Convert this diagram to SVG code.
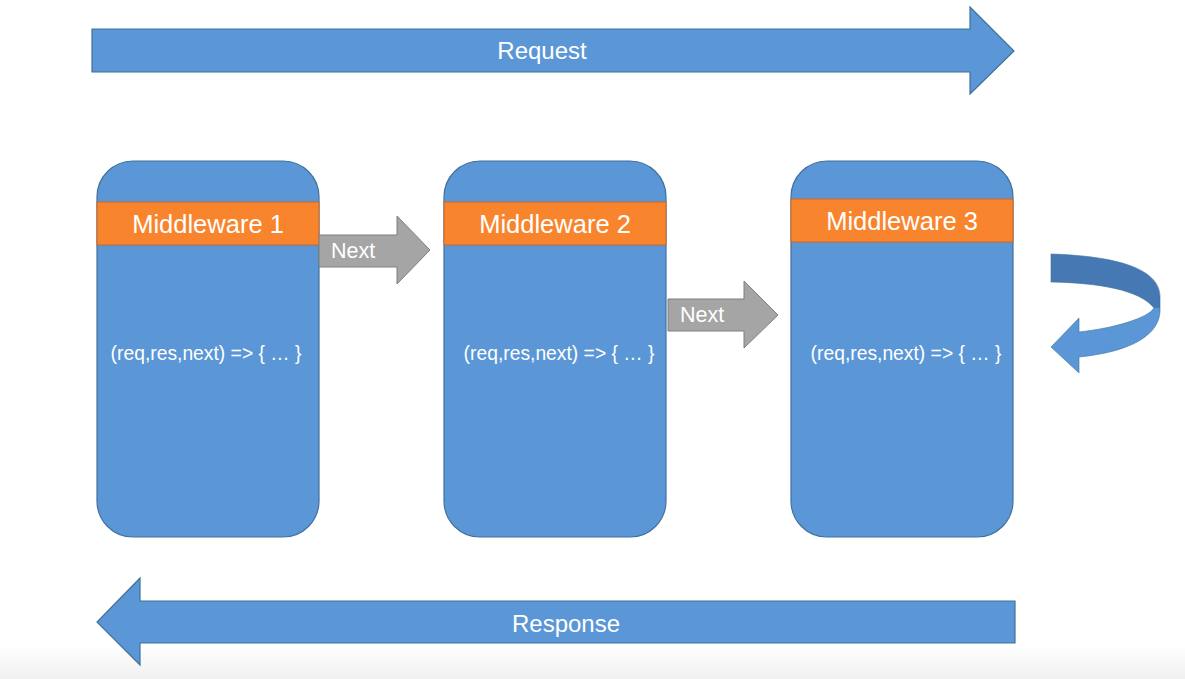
<svg xmlns="http://www.w3.org/2000/svg" width="1185" height="679" viewBox="0 0 1185 679">
<style>
.blue{fill:#5B97D6;stroke:#41719C;stroke-width:1.2}
.band{fill:#F8852E;stroke:#C5682A;stroke-width:1}
.gray{fill:#A5A5A5;stroke:#7F7F7F;stroke-width:1}
text{font-family:"Liberation Sans",Arial,sans-serif;fill:#ffffff}
.big{font-size:24px;text-anchor:middle}
.mw{font-size:25.5px;text-anchor:middle}
.code{font-size:19.3px;text-anchor:middle}
.nx{font-size:21.5px}
</style>
<defs>
<linearGradient id="bg" x1="0" y1="0" x2="0" y2="1">
<stop offset="0" stop-color="#ffffff"/>
<stop offset="1" stop-color="#f0f0f0"/>
</linearGradient>
<linearGradient id="uturn" gradientUnits="userSpaceOnUse" x1="0" y1="254" x2="0" y2="373">
<stop offset="0.455" stop-color="#4679B4"/>
<stop offset="0.455" stop-color="#5B97D6"/>
</linearGradient>
</defs>
<rect width="1185" height="679" fill="#ffffff"/>
<rect x="0" y="645" width="1185" height="34" fill="url(#bg)"/>
<g id="request">
<path class="blue" d="M92,29 L970,29 L970,7 L1014,51 L970,94 L970,72 L92,72 Z"/>
<text class="big" x="542" y="59">Request</text>
</g>
<g id="response">
<path class="blue" d="M1015,601 L140,601 L140,578 L97,622 L140,665 L140,643 L1015,643 Z"/>
<text class="big" x="566" y="632">Response</text>
</g>
<g id="middleware1">
<rect class="blue" x="97" y="161" width="222" height="376" rx="36"/>
<rect class="band" x="97" y="202" width="222" height="43"/>
<text class="mw" x="208" y="233">Middleware 1</text>
<text class="code" x="206" y="360">(req,res,next) =&gt; { … }</text>
</g>
<g id="middleware2">
<rect class="blue" x="444" y="161" width="222" height="376" rx="36"/>
<rect class="band" x="444" y="202" width="222" height="43"/>
<text class="mw" x="555" y="233">Middleware 2</text>
<text class="code" x="559" y="360">(req,res,next) =&gt; { … }</text>
</g>
<g id="middleware3">
<rect class="blue" x="791" y="161" width="222" height="376" rx="36"/>
<rect class="band" x="791" y="199" width="222" height="43"/>
<text class="mw" x="902" y="230">Middleware 3</text>
<text class="code" x="906" y="360">(req,res,next) =&gt; { … }</text>
</g>
<g id="connectors">
<g id="next1">
<path class="gray" d="M319,235 L397,235 L397,216 L430,250 L397,284 L397,267 L319,267 Z"/>
<text class="nx" x="331" y="258">Next</text>
</g>
<g id="next2">
<path class="gray" d="M668,299 L744,299 L744,281 L778,315 L744,348 L744,331 L668,331 Z"/>
<text class="nx" x="680" y="322">Next</text>
</g>
<g id="uturn-arrow">
<path fill="url(#uturn)" stroke="#41719C" stroke-width="0.6" d="M1051,254 C1115,256 1159,268 1160,296 L1160,312 C1158,340 1120,353 1079,357 L1079,373 L1051,347 L1079,318 L1079,332 C1115,328 1148,318 1154,308 C1140,290 1100,283 1051,282 Z"/>
</g>
</g>
</svg>
